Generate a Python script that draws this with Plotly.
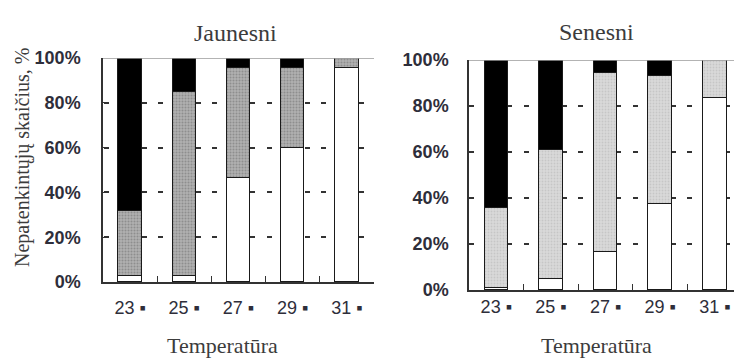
import plotly.graph_objects as go

# Temperature groups (°C) and share of each outcome per group, %
temps = ["23", "25", "27", "29", "31"]
temp_labels = ["23 ▪", "25 ▪", "27 ▪", "29 ▪", "31 ▪"]
y_ticks = [0, 20, 40, 60, 80, 100]
y_tick_labels = ["0%", "20%", "40%", "60%", "80%", "100%"]

# Jaunesni (younger)
young_white = [2.5, 2.5, 46.5, 60.0, 95.5]
young_gray = [29.0, 82.5, 49.0, 35.5, 4.5]
young_black = [68.5, 15.0, 4.5, 4.5, 0.0]

# Senesni (older)
old_white = [1.0, 5.0, 16.5, 37.5, 83.5]
old_gray = [34.5, 56.0, 78.0, 55.5, 16.5]
old_black = [64.5, 39.0, 5.5, 7.0, 0.0]

W, H = 734, 358
BAR_W = 0.43
OUTLINE = dict(color="#1a1a1a", width=1.4)

fig = go.Figure()


def add_stack(white, gray, black, xa, ya, gray_bg, gray_fg):
    fig.add_trace(go.Bar(x=temps, y=white, width=BAR_W, xaxis=xa, yaxis=ya,
                         marker=dict(color="white", line=OUTLINE)))
    fig.add_trace(go.Bar(x=temps, y=gray, width=BAR_W, xaxis=xa, yaxis=ya,
                         marker=dict(color=gray_bg, line=OUTLINE,
                                     pattern=dict(shape=".", bgcolor=gray_bg,
                                                  fgcolor=gray_fg, size=3,
                                                  solidity=0.35))))
    fig.add_trace(go.Bar(x=temps, y=black, width=BAR_W, xaxis=xa, yaxis=ya,
                         marker=dict(color="black", line=OUTLINE)))


add_stack(young_white, young_gray, young_black, "x", "y", "#b0b0b0", "#6c6c6c")
add_stack(old_white, old_gray, old_black, "x2", "y2", "#dadada", "#b2b2b2")

tick_font = dict(family="Liberation Sans, Arial, sans-serif", size=18, color="#2e2e3a")
serif = "Liberation Serif, Times New Roman, serif"

xa_common = dict(type="category", tickvals=temps, ticktext=temp_labels,
                 showline=True, linecolor="#333", linewidth=1.5,
                 ticks="inside", tickson="boundaries", ticklen=6,
                 tickcolor="#333", tickwidth=1.3, showgrid=False,
                 tickfont=tick_font, fixedrange=True, automargin=False)
ya_common = dict(range=[0, 100], tickvals=y_ticks, ticktext=y_tick_labels,
                 showline=True, linecolor="#333", linewidth=1.5,
                 ticks="inside", ticklen=4, tickcolor="#333", tickwidth=1.3,
                 showgrid=True, gridcolor="#333", gridwidth=1.8,
                 zeroline=False, tickfont=dict(tick_font, weight="bold"),
                 fixedrange=True, automargin=False)

x1_dom = [103 / W, 374 / W]
y1_dom = [(H - 282) / H, (H - 58) / H]
x2_dom = [469 / W, 1.0]
y2_dom = [(H - 290) / H, (H - 60) / H]

fig.update_layout(
    width=W, height=H,
    margin=dict(l=0, r=0, t=0, b=0),
    paper_bgcolor="white", plot_bgcolor="white",
    barmode="stack", bargap=0, showlegend=False,
    xaxis=dict(domain=x1_dom, anchor="y", range=[-0.5, 4.5],
               ticklabelstandoff=9, **xa_common),
    yaxis=dict(domain=y1_dom, anchor="x", ticklabelstandoff=17,
               griddash="0px,1px,5px,33px,5px,10.2px", **ya_common),
    xaxis2=dict(domain=x2_dom, anchor="y2", range=[-0.5, 4.35],
                ticklabelstandoff=0, **xa_common),
    yaxis2=dict(domain=y2_dom, anchor="x2", ticklabelstandoff=15,
                griddash="5px,33px,5px,11.6px", **ya_common),
)

# light top frame lines
fig.add_shape(type="line", xref="x domain", yref="y", x0=0, x1=1, y0=100, y1=100,
              line=dict(color="#9a9a9a", width=1.3))
fig.add_shape(type="line", xref="x2 domain", yref="y2", x0=0, x1=1, y0=100, y1=100,
              line=dict(color="#9a9a9a", width=1.3))

title_font = dict(family=serif, size=24, color="#3c3c3c")
axis_title_font = dict(family=serif, size=22, color="#3c3c3c")
fig.add_annotation(text="Jaunesni", x=236 / W, y=(H - 33) / H, xref="paper", yref="paper",
                   showarrow=False, font=title_font, xanchor="center", yanchor="middle")
fig.add_annotation(text="Senesni", x=596 / W, y=(H - 32) / H, xref="paper", yref="paper",
                   showarrow=False, font=title_font, xanchor="center", yanchor="middle")
fig.add_annotation(text="Temperatūra", x=222 / W, y=(H - 345) / H, xref="paper", yref="paper",
                   showarrow=False, font=axis_title_font,
                   xanchor="center", yanchor="middle")
fig.add_annotation(text="Temperatūra", x=596 / W, y=(H - 345) / H, xref="paper", yref="paper",
                   showarrow=False, font=axis_title_font,
                   xanchor="center", yanchor="middle")
fig.add_annotation(text="Nepatenkintųjų skaičius, %", x=22 / W, y=(H - 158) / H,
                   xref="paper", yref="paper", showarrow=False, textangle=-90,
                   font=dict(family=serif, size=20, color="#3c3c3c"),
                   xanchor="center", yanchor="middle")

fig.write_html("out.html")
